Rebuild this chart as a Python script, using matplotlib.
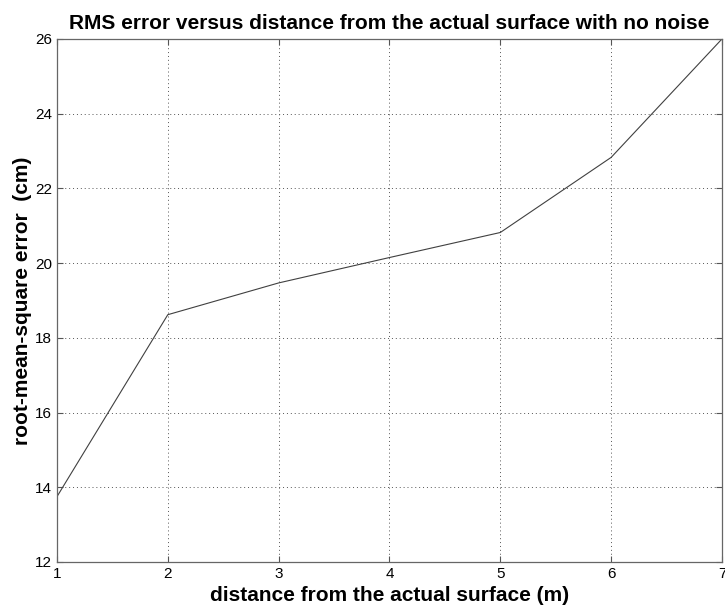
import matplotlib
matplotlib.use("Agg")
import matplotlib.pyplot as plt

distance_m = [1, 2, 3, 4, 5, 6, 7]
rms_error_cm = [13.75, 18.62, 19.47, 20.15, 20.82, 22.83, 26.0]
x_ticks = [1, 2, 3, 4, 5, 6, 7]
y_ticks = [12, 14, 16, 18, 20, 22, 24, 26]

plt.rcParams['font.family'] = ['Liberation Sans', 'DejaVu Sans']

fig = plt.figure(figsize=(7.25, 6.11), dpi=100)
ax = fig.add_axes([0.0786, 0.0802, 0.9172, 0.856])
ax.plot(distance_m, rms_error_cm, color='#404040', linewidth=0.8)
ax.set_xlim(1, 7)
ax.set_ylim(12, 26)
ax.set_xticks(x_ticks)
ax.set_yticks(y_ticks)
ax.grid(True, linestyle=(0, (1, 3)), color='#555555', linewidth=0.7)
ax.tick_params(direction='in', length=4, labelsize=11, top=True, right=True, color='#555555')
for s in ax.spines.values():
    s.set_color('#666666')
    s.set_linewidth(0.9)
ax.set_title('RMS error versus distance from the actual surface with no noise',
             fontsize=15, fontweight='bold', pad=7)
ax.set_xlabel('distance from the actual surface (m)', fontsize=15, fontweight='bold', labelpad=4)
ax.set_ylabel('root-mean-square error  (cm)', fontsize=15, fontweight='bold', labelpad=2)
fig.savefig('out.png', dpi=100)
